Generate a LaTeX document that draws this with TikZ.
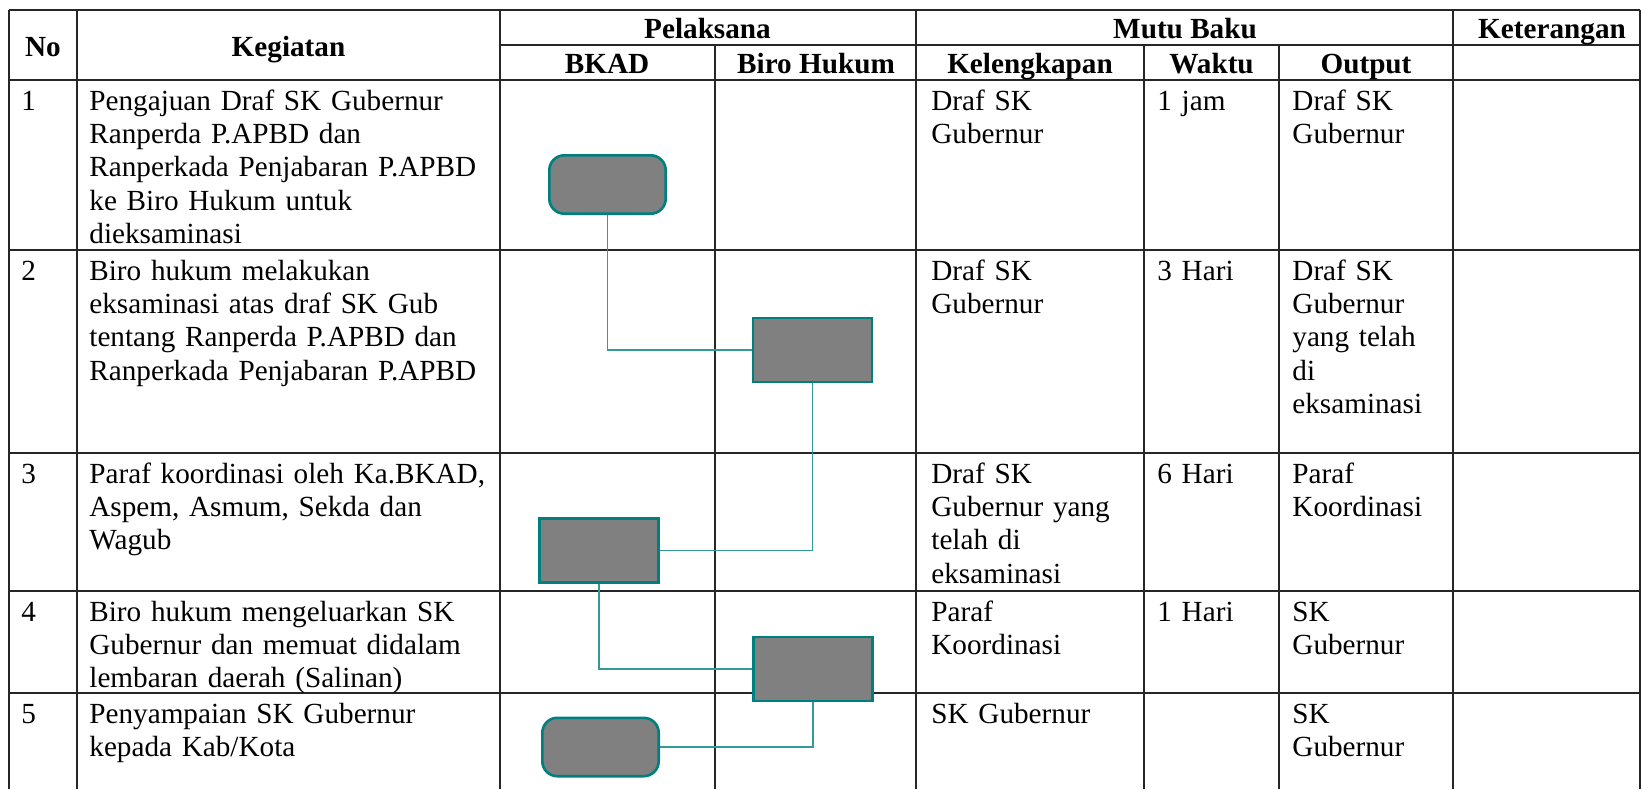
\documentclass[tikz,border=0pt]{standalone}
\usepackage{fontspec}
\setmainfont{Liberation Serif}
\usepackage{tikz}
\newcommand{\tabfont}{\fontsize{14.6pt}{16.7pt}\selectfont}
\definecolor{boxline}{HTML}{007F7F}
\definecolor{boxfill}{HTML}{808080}
\definecolor{wire}{HTML}{339999}
\tikzstyle{terminal} = [rectangle, rounded corners=7.5pt, minimum width=58.2pt, minimum height=29.2pt, draw=boxline, line width=1.3pt, fill=boxfill]
\tikzstyle{activity} = [rectangle, minimum width=59.5pt, minimum height=32pt, draw=boxline, line width=1.3pt, fill=boxfill]
\tikzstyle{link} = [draw=wire, line width=0.6pt]
\tikzstyle{grid} = [draw=black!85, line width=0.9pt]
\tikzstyle{head} = [anchor=base, inner sep=0pt, font=\tabfont\bfseries]
\tikzstyle{cell} = [anchor=base west, inner sep=0pt, text width=205pt, align=left, font=\tabfont]

\begin{document}
\begin{tikzpicture}[x=0.5pt, y=-0.5pt]

\useasboundingbox (0,0) rectangle (1641,789);

\draw [grid] (9,10) -- (1640,10);
\draw [grid] (500,45) -- (1640,45);
\foreach \y in {80,250,453,591,693} \draw [grid] (9,\y) -- (1640,\y);
\foreach \x in {9,77,500,916,1453,1640} \draw [grid] (\x,10) -- (\x,789);
\foreach \x in {715,1144,1279} \draw [grid] (\x,45) -- (\x,789);

\node (hno) [head] at (43,56) {No};
\node (hkeg) [head] at (288.5,56) {Kegiatan};
\node (hpel) [head] at (707.5,38) {Pelaksana};
\node (hbkad) [head] at (607,73) {BKAD};
\node (hbiro) [head] at (816,73) {Biro Hukum};
\node (hmutu) [head] at (1185,38) {Mutu Baku};
\node (hkel) [head] at (1030,73) {Kelengkapan};
\node (hwaktu) [head] at (1211.5,73) {Waktu};
\node (hout) [head] at (1366,73) {Output};
\node (hket) [head] at (1552,38) {Keterangan};

\node (no1) [cell] at (21,110) {1};
\node (keg1) [cell] at (89,110) {Pengajuan Draf SK Gubernur\\Ranperda P.APBD dan\\Ranperkada Penjabaran P.APBD\\ke Biro Hukum untuk\\dieksaminasi};
\node (kel1) [cell] at (931,110) {Draf SK\\Gubernur};
\node (wak1) [cell] at (1157,110) {1 jam};
\node (out1) [cell] at (1292,110) {Draf SK\\Gubernur};

\node (no2) [cell] at (21,280) {2};
\node (keg2) [cell] at (89,280) {Biro hukum melakukan\\eksaminasi atas draf SK Gub\\tentang Ranperda P.APBD dan\\Ranperkada Penjabaran P.APBD};
\node (kel2) [cell] at (931,280) {Draf SK\\Gubernur};
\node (wak2) [cell] at (1157,280) {3 Hari};
\node (out2) [cell] at (1292,280) {Draf SK\\Gubernur\\yang telah\\di\\eksaminasi};

\node (no3) [cell] at (21,483) {3};
\node (keg3) [cell] at (89,483) {Paraf koordinasi oleh Ka.BKAD,\\Aspem, Asmum, Sekda dan\\Wagub};
\node (kel3) [cell] at (931,483) {Draf SK\\Gubernur yang\\telah di\\eksaminasi};
\node (wak3) [cell] at (1157,483) {6 Hari};
\node (out3) [cell] at (1292,483) {Paraf\\Koordinasi};

\node (no4) [cell] at (21,621) {4};
\node (keg4) [cell] at (89,621) {Biro hukum mengeluarkan SK\\Gubernur dan memuat didalam\\lembaran daerah (Salinan)};
\node (kel4) [cell] at (931,621) {Paraf\\Koordinasi};
\node (wak4) [cell] at (1157,621) {1 Hari};
\node (out4) [cell] at (1292,621) {SK\\Gubernur};

\node (no5) [cell] at (21,723) {5};
\node (keg5) [cell] at (89,723) {Penyampaian SK Gubernur\\kepada Kab/Kota};
\node (kel5) [cell] at (931,723) {SK Gubernur};
\node (out5) [cell] at (1292,723) {SK\\Gubernur};

\node (t1) [terminal] at (607.5,184.5) {};
\node (a2) [activity] at (812.5,350) {};
\node (a3) [activity] at (599,550.5) {};
\node (a4) [activity] at (813,669) {};
\node (t5) [terminal] at (600.5,747) {};

\draw [link] (t1) |- (a2);
\draw [link] (a2) |- (a3);
\draw [link] (a3) |- (a4);
\draw [link] (a4) |- (t5);

\end{tikzpicture}
\end{document}
